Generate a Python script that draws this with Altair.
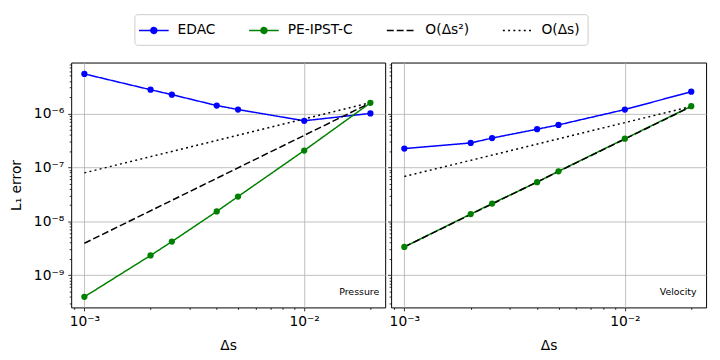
import altair as alt
import pandas as pd

# ---------------- data ----------------
ds = [0.001, 0.002, 0.0025, 0.004, 0.005, 0.01, 0.02]
p_edac = [5.4e-6, 2.75e-6, 2.23e-6, 1.4e-6, 1.18e-6, 7.3e-7, 1.0e-6]
p_pe = [3.96e-10, 2.32e-9, 4.19e-9, 1.52e-8, 2.87e-8, 2.05e-7, 1.57e-6]
v_edac = [2.23e-7, 2.83e-7, 3.49e-7, 5.1e-7, 6.12e-7, 1.18e-6, 2.53e-6]
v_pe = [3.34e-9, 1.36e-8, 2.13e-8, 5.3e-8, 8.45e-8, 3.39e-7, 1.36e-6]
ref_ds = [0.001, 0.02]
p_o2 = [3.9e-9, 1.57e-6]
p_o1 = [7.9e-8, 1.58e-6]
v_o2 = [3.34e-9, 1.34e-6]
v_o1 = [6.75e-8, 1.35e-6]

series_names = ["EDAC", "PE-IPST-C", "O(Δs²)", "O(Δs)"]
panel_names = ["Pressure", "Velocity"]

x_major = [0.001, 0.01]
x_major_labels = ["10⁻³", "10⁻²"]
y_major = [1e-9, 1e-8, 1e-7, 1e-6]
y_major_labels = ["10⁻⁹", "10⁻⁸", "10⁻⁷", "10⁻⁶"]

x_domain = [8.71e-4, 2.335e-2]
y_domain = [2.52e-10, 8.78e-6]

# minor tick positions
x_ticks = [0.0009] + [k * 1e-3 for k in range(1, 10)] + [0.01, 0.02]
y_ticks = []
for e in range(-10, -5):
    for k in range(1, 10):
        v = k * 10.0 ** e
        if y_domain[0] <= v <= y_domain[1]:
            y_ticks.append(v)

rows = []
for panel, data in zip(panel_names, [
        [(ds, p_edac), (ds, p_pe), (ref_ds, p_o2), (ref_ds, p_o1)],
        [(ds, v_edac), (ds, v_pe), (ref_ds, v_o2), (ref_ds, v_o1)]]):
    for name, (xs, ys) in zip(series_names, data):
        for xv, yv in zip(xs, ys):
            rows.append({"panel": panel, "series": name, "ds": xv, "err": yv})
df = pd.DataFrame(rows)


def major_test(vals):
    return " || ".join(f"abs(datum.value/{v!r}-1)<1e-6" for v in vals)


def label_expr(vals, labels):
    expr = "''"
    for v, l in reversed(list(zip(vals, labels))):
        expr = f"abs(datum.value/{v!r}-1)<1e-6 ? '{l}' : ({expr})"
    return expr


def make_axis(vals, labels, ticks, show_labels, title, label_pad, title_pad):
    test = major_test(vals)
    kw = dict(
        values=ticks,
        labelExpr=label_expr(vals, labels),
        labels=show_labels,
        labelOverlap=False,
        labelFlush=False,
        domain=False,
        tickColor="black",
        tickWidth=0.8,
        tickSize={"condition": {"test": test, "value": 3.5}, "value": 2},
        gridColor="#b0b0b0",
        gridWidth=0.8,
        gridOpacity={"condition": {"test": test, "value": 1}, "value": 0},
        labelFontSize=14,
        labelColor="black",
        labelPadding=label_pad,
        titleFontSize=14,
        titleFontWeight="normal",
        titleColor="black",
        titlePadding=title_pad,
    )
    kw["title"] = title
    return alt.Axis(**kw)


xscale = alt.Scale(type="log", domain=x_domain, nice=False)
yscale = alt.Scale(type="log", domain=y_domain, nice=False)

color_scale = alt.Scale(domain=series_names,
                        range=["#0000ff", "#008000", "#000000", "#000000"])
dash_scale = alt.Scale(domain=series_names,
                       range=[[1, 0], [1, 0], [7, 3], [2, 3.3]])
width_scale = alt.Scale(domain=series_names, range=[1.5, 1.5, 2, 2])
marker_path = "M-1.875,0H1.875M-0.375,0A0.375,0.375,0,1,0,0.375,0A0.375,0.375,0,1,0,-0.375,0"
line_path = "M-1.875,0H1.875"
shape_scale = alt.Scale(domain=series_names,
                        range=[marker_path, marker_path, line_path, line_path])

legend = alt.Legend(
    title=None,
    orient="none",
    legendX=64,
    legendY=-49,
    direction="horizontal",
    columns=4,
    symbolSize=256,
    symbolOffset=3.2,
    labelFontSize=14,
    labelColor="black",
    labelOffset=15,
    columnPadding=30.5,
    strokeColor="#cccccc",
    fillColor="white",
    cornerRadius=3,
    padding=7.5,
)


def panel_chart(name, width, show_ylabels, text_right):
    d = df[df["panel"] == name]
    xaxis = make_axis(x_major, x_major_labels, x_ticks, True, "Δs", 4, 10)
    yaxis = make_axis(y_major, y_major_labels, y_ticks, show_ylabels,
                      "L₁ error" if show_ylabels else None, 4, 10)
    x = alt.X("ds:Q", scale=xscale, axis=xaxis)
    y = alt.Y("err:Q", scale=yscale, axis=yaxis)
    base = alt.Chart(d)
    legend_layer = base.transform_filter("false").mark_point(
        filled=True, opacity=1
    ).encode(
        x=x, y=y,
        shape=alt.Shape("series:N", scale=shape_scale, legend=legend),
        color=alt.Color("series:N", scale=color_scale, legend=legend),
        strokeDash=alt.StrokeDash("series:N", scale=dash_scale, legend=legend),
        strokeWidth=alt.StrokeWidth("series:N", scale=width_scale, legend=legend),
    )
    lines = base.mark_line().encode(
        x=x, y=y,
        color=alt.Color("series:N", scale=color_scale, legend=legend),
        strokeDash=alt.StrokeDash("series:N", scale=dash_scale, legend=legend),
        strokeWidth=alt.StrokeWidth("series:N", scale=width_scale, legend=legend),
    )
    pts = base.transform_filter(
        alt.FieldOneOfPredicate(field="series", oneOf=series_names[:2])
    ).mark_circle(size=40, opacity=1).encode(
        x=x, y=y,
        color=alt.Color("series:N", scale=color_scale, legend=legend),
    )
    txt = alt.Chart(pd.DataFrame({"t": [name]})).mark_text(
        align="right", baseline="middle", fontSize=9.5, color="black"
    ).encode(
        text="t:N",
        x=alt.value(width - text_right),
        y=alt.value(248 - 16),
    )
    return alt.layer(legend_layer, lines, pts, txt).properties(width=width, height=248)


left = panel_chart(panel_names[0], 318, True, 6)
right = panel_chart(panel_names[1], 319, False, 9.6)

chart = alt.hconcat(left, right, spacing=0).resolve_scale(
    x="independent", y="independent"
).properties(
    padding={"left": 1, "top": 3, "right": 5, "bottom": 5}
).configure(
    font="DejaVu Sans",
).configure_view(
    stroke="black", strokeWidth=1
)

chart.save("out.html", embed_options={"renderer": "svg", "actions": False})
